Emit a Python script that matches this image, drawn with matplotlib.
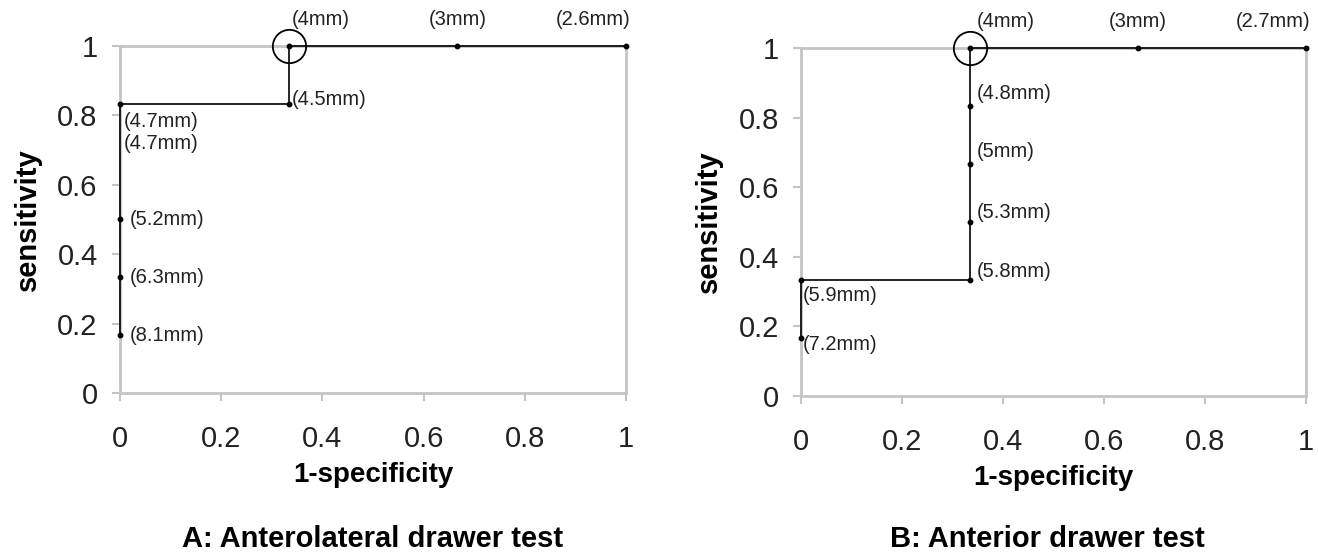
import numpy as np
import matplotlib.pyplot as plt

plt.rcParams['font.family'] = ['Liberation Sans', 'DejaVu Sans']

# ROC points, panel A (anterolateral drawer test)
a_fpr = [0, 0, 0, 0, 1/3, 1/3, 2/3, 1]
a_tpr = [1/6, 2/6, 3/6, 5/6, 5/6, 1, 1, 1]
a_labels = ['(8.1mm)', '(6.3mm)', '(5.2mm)', '(4.7mm)\n(4.7mm)', '(4.5mm)', '(4mm)', '(3mm)', '(2.6mm)']

# ROC points, panel B (anterior drawer test)
b_fpr = [0, 0, 1/3, 1/3, 1/3, 1/3, 1/3, 2/3, 1]
b_tpr = [1/6, 2/6, 2/6, 3/6, 4/6, 5/6, 1, 1, 1]
b_labels = ['(7.2mm)', '(5.9mm)', '(5.8mm)', '(5.3mm)', '(5mm)', '(4.8mm)', '(4mm)', '(3mm)', '(2.7mm)']

# optimal cut-off (circled)
a_best = (1/3, 1)
b_best = (1/3, 1)

ticks = [0, 0.2, 0.4, 0.6, 0.8, 1]
tick_names = ['0', '0.2', '0.4', '0.6', '0.8', '1']

# label placement (offset in points, ha, va)
a_place = [((7, 0), 'left', 'center'),
           ((7, 0), 'left', 'center'),
           ((7, 0), 'left', 'center'),
           ((3, -6), 'left', 'top'),
           ((2, 3), 'left', 'center'),
           ((2, 12), 'left', 'bottom'),
           ((0, 12), 'center', 'bottom'),
           ((-24, 12), 'center', 'bottom')]
b_place = [((1, -5), 'left', 'center'),
           ((1, -11), 'left', 'center'),
           ((5, 6), 'left', 'center'),
           ((5, 7), 'left', 'center'),
           ((5, 9), 'left', 'center'),
           ((5, 9), 'left', 'center'),
           ((5, 12), 'left', 'bottom'),
           ((0, 12), 'center', 'bottom'),
           ((-24, 12), 'center', 'bottom')]

fig = plt.figure(figsize=(13.18, 5.52), dpi=100)
ax_a = fig.add_axes([0.091, 0.288, 0.384, 0.629])
ax_b = fig.add_axes([0.608, 0.283, 0.383, 0.630])

grey = '#c4c4c4'


def draw_panel(ax, fpr, tpr, labels, place, best, title, title_x):
    ax.plot(fpr, tpr, color='black', lw=1.2, marker='o', ms=3.2, zorder=3, clip_on=False)
    ax.plot(*best, marker='o', ms=24, mfc='none', mec='black', mew=1.3, zorder=4, clip_on=False)
    for x, y, lab, (off, ha, va) in zip(fpr, tpr, labels, place):
        ax.annotate(lab, (x, y), xytext=off, textcoords='offset points',
                    ha=ha, va=va, fontsize=14.5, color='#222222', linespacing=1.2)
    ax.set_xlim(0, 1)
    ax.set_ylim(0, 1)
    for s in ax.spines.values():
        s.set_color(grey)
        s.set_linewidth(2)
    ax.set_xticks(ticks)
    ax.set_xticklabels(tick_names)
    ax.set_yticks(ticks)
    ax.set_yticklabels(tick_names)
    ax.tick_params(direction='out', length=6, width=1.5, color=grey,
                   labelsize=21, labelcolor='#222222')
    ax.tick_params(axis='x', pad=17)
    ax.tick_params(axis='y', pad=10)
    ax.set_xlabel('1-specificity', fontsize=20, fontweight='bold', va='center')
    ax.xaxis.set_label_coords(0.5, -0.236)
    ax.set_ylabel('sensitivity', fontsize=21, fontweight='bold', va='center')
    ax.yaxis.set_label_coords(-0.182, 0.5)
    fig.text(title_x, 0.0095, title, ha='center', va='baseline',
             fontsize=21, fontweight='bold')


draw_panel(ax_a, a_fpr, a_tpr, a_labels, a_place, a_best, 'A: Anterolateral drawer test', 0.283)
draw_panel(ax_b, b_fpr, b_tpr, b_labels, b_place, b_best, 'B: Anterior drawer test', 0.795)

fig.savefig('out.png', dpi=100)
